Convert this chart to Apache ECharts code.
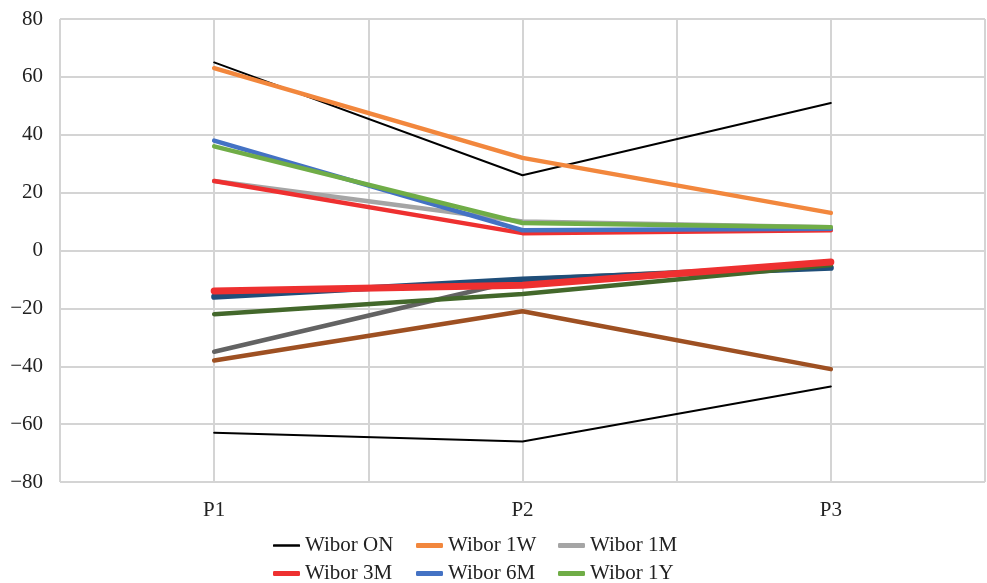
<!DOCTYPE html>
<html>
<head>
<meta charset="utf-8">
<script src="https://cdn.jsdelivr.net/npm/echarts@6/dist/echarts.min.js"></script>
<style>html,body{margin:0;padding:0;background:#fff}#c{width:987px;height:583px}</style>
</head>
<body>
<div id="c"></div>
<script>
// ---- data ----
const categories = ['P1', 'P2', 'P3'];
const gridCategories = ['', 'P1', '', 'P2', '', 'P3', ''];
const yTicks = [-80, -60, -40, -20, 0, 20, 40, 60, 80];

// upper group (legend series)
const wiborON = [65, 26, 51];
const wibor1W = [63, 32, 13];
const wibor1M = [24, 10, 8];
const wibor3M = [24, 6, 7];
const wibor6M = [38, 7, 7.5];
const wibor1Y = [36, 9.5, 8];

// lower group (no legend entries)
const lowON = [-63, -66, -47];
const low1W = [-38, -21, -41];
const low1M = [-35, -10, -5];
const low6M = [-16, -10, -6];
const low1Y = [-22, -15, -5];
const low3M = [-14, -12, -4];

const legendNames = ['Wibor ON', 'Wibor 1W', 'Wibor 1M', 'Wibor 3M', 'Wibor 6M', 'Wibor 1Y'];

// ---- styles ----
const FONT = '"Liberation Serif", "Times New Roman", serif';
const FS = 21;
const C = {
  on: '#000000', w1: '#F2873D', m1: '#A5A5A5', m3: '#EE3030', m6: '#4472C4', y1: '#70AD47',
  lon: '#000000', lw1: '#9E5022', lm1: '#636363', lm3: '#EE3030', lm6: '#1F4E79', ly1: '#43682B'
};

function line(name, data, color, width, z) {
  return {
    name: name, type: 'line', data: data, symbol: 'none', xAxisIndex: 0,
    lineStyle: { color: color, width: width, cap: 'round', join: 'round' },
    itemStyle: { color: color }, z: z, animation: false
  };
}

const series = [
  line('Wibor ON', wiborON, C.on, 2, 2),
  line('Wibor 1W', wibor1W, C.w1, 4.5, 3),
  line('Wibor 1M', wibor1M, C.m1, 4.5, 4),
  line('Wibor 3M', wibor3M, C.m3, 4.5, 5),
  line('Wibor 6M', wibor6M, C.m6, 4.5, 6),
  line('Wibor 1Y', wibor1Y, C.y1, 4.5, 7),
  line('low ON', lowON, C.lon, 2, 2),
  line('low 1W', low1W, C.lw1, 4.5, 3),
  line('low 1M', low1M, C.lm1, 4.5, 4),
  line('low 6M', low6M, C.lm6, 6, 5),
  line('low 1Y', low1Y, C.ly1, 4.5, 6),
  line('low 3M', low3M, C.lm3, 7, 7)
];

const legendPos = [
  [273, 535], [416, 535], [558, 535],
  [273, 563], [416, 563], [558, 563]
];
const legends = legendNames.map((n, i) => ({
  data: [{ name: n, icon: 'roundRect' }],
  left: legendPos[i][0], top: legendPos[i][1],
  padding: 0, itemWidth: 27, itemHeight: i === 0 ? 2.5 : 5,
  selectedMode: false,
  textStyle: { fontFamily: FONT, fontSize: FS, color: '#222' }
}));

const chart = echarts.init(document.getElementById('c'), null, { renderer: 'canvas' });
chart.setOption({
  backgroundColor: '#fff',
  animation: false,
  legend: legends,
  grid: { left: 60, right: 2, top: 19, bottom: 101, containLabel: false },
  xAxis: [
    {
      type: 'category', data: categories, boundaryGap: true,
      axisLine: { show: false }, axisTick: { show: false },
      axisLabel: { fontFamily: FONT, fontSize: FS, color: '#222', margin: 18 },
      splitLine: { show: false }
    },
    {
      type: 'category', data: gridCategories, boundaryGap: false, position: 'bottom',
      axisLine: { show: false }, axisTick: { show: false }, axisLabel: { show: false },
      splitLine: { show: true, interval: 0, lineStyle: { color: '#D4D4D4', width: 2 } }
    }
  ],
  yAxis: {
    type: 'value', min: yTicks[0], max: yTicks[yTicks.length - 1], interval: 20,
    axisLine: { show: false }, axisTick: { show: false },
    axisLabel: {
      fontFamily: FONT, fontSize: FS, color: '#222', margin: 17,
      formatter: v => String(v).replace('-', '\u2212')
    },
    splitLine: { show: true, lineStyle: { color: '#D4D4D4', width: 2 } }
  },
  series: series
});
</script>
</body>
</html>
